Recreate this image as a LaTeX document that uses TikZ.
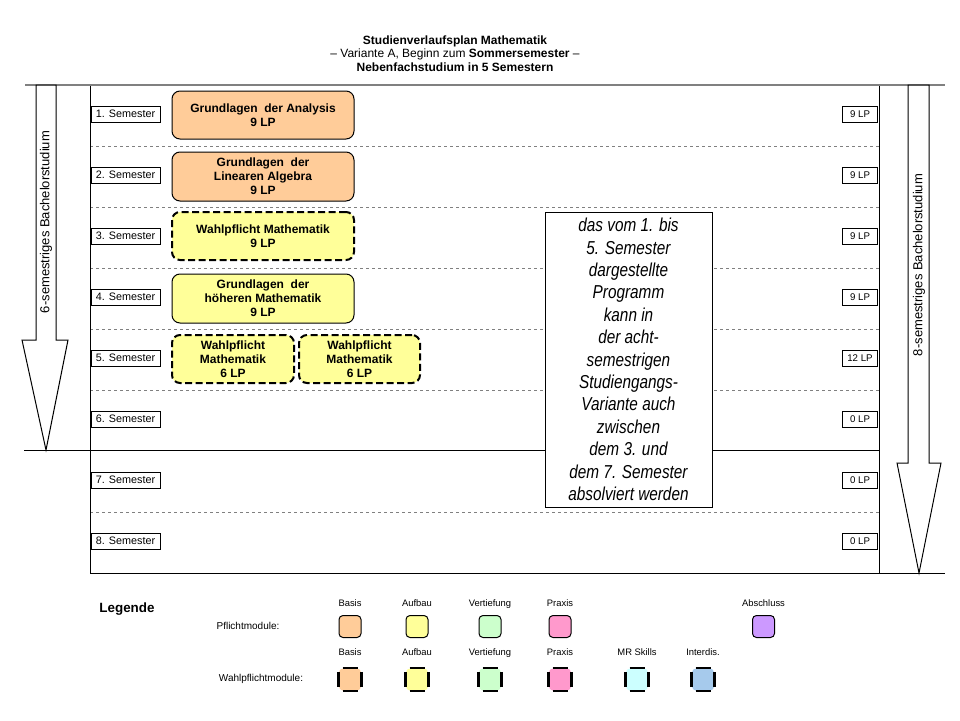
\documentclass[tikz,border=0pt]{standalone}
\usepackage{fontspec}
\setmainfont{Liberation Sans}
\newfontfamily\narrowfont[FakeStretch=0.82]{Liberation Sans}
\usetikzlibrary{positioning}
\definecolor{basis}{HTML}{FFCC99}
\definecolor{aufbau}{HTML}{FFFF99}
\definecolor{vertiefung}{HTML}{CCFFCC}
\definecolor{praxis}{HTML}{FF99CC}
\definecolor{abschluss}{HTML}{CC99FF}
\definecolor{mrskills}{HTML}{CCFFFF}
\definecolor{interdis}{HTML}{A6CAEC}
\tikzset{sem/.style = {draw, fill=white, line width=1pt, inner sep=0,
                       minimum width=69, minimum height=16,
                       font=\fontsize{10.8}{12}\selectfont}}
\tikzset{lp/.style = {draw, fill=white, line width=1pt, inner sep=0,
                      minimum width=35, minimum height=16, anchor=east,
                      font=\fontsize{9.7}{11}\selectfont}}
\tikzset{pflicht/.style = {draw, line width=1pt, rounded corners=8, inner sep=0,
                           align=center, font=\bfseries\fontsize{12}{14}\selectfont}}
\tikzset{wahl/.style = {pflicht, line width=2pt, dash pattern=on 7pt off 3.5pt}}
\tikzset{legbox/.style = {draw, line width=1pt, rounded corners=4, minimum size=22, inner sep=0}}
\tikzset{wside/.style = {line width=2.6pt, -}}
\tikzset{wlegbox/.style = {legbox, draw=none, append after command={
  ([yshift=-4pt]\tikzlastnode.north west) edge [wside] ([yshift=4pt]\tikzlastnode.south west)
  ([yshift=-4pt]\tikzlastnode.north east) edge [wside] ([yshift=4pt]\tikzlastnode.south east)
  ([xshift=4pt]\tikzlastnode.north west) edge [wside] ([xshift=-4pt]\tikzlastnode.north east)
  ([xshift=4pt]\tikzlastnode.south west) edge [wside] ([xshift=-4pt]\tikzlastnode.south east)}}}
\tikzset{leglabel/.style = {font=\fontsize{9.4}{11}\selectfont, text height=7, text depth=2}}
\tikzset{bigarrow/.style = {draw, line width=1pt, fill=white}}

\begin{document}
\begin{tikzpicture}[x=1pt, y=-1pt]
      \useasboundingbox (0, 0) rectangle (960, 720);

      % title
      \node (title) at (455, 53.5) [align=center, font=\fontsize{12}{13.5}\selectfont]
        {\textbf{Studienverlaufsplan Mathematik}\\
         -- Variante A, Beginn zum \textbf{Sommersemester} --\\
         \textbf{Nebenfachstudium in 5 Semestern}};

      % frame and semester rows
      \foreach \y in {146, 207, 268, 329, 390, 512}
        \draw [gray, line width=1pt, dashed] (90, \y) -- (879, \y);
      \draw [line width=1pt] (24, 450) -- (879, 450);
      \draw [line width=1pt] (90, 85) -- (90, 573);
      \draw [line width=1pt] (879, 85) -- (879, 573);
      \draw [line width=1pt] (90, 573) -- (945, 573);
      \draw [gray, line width=1.5pt] (25, 85) -- (945, 85);

      % 6 and 8 semester arrows
      \draw [bigarrow] (36, 85) -- (56, 85) -- (56, 340) -- (68, 340) -- (46, 450)
        -- (22, 340) -- (36, 340) -- cycle;
      \node (six) at (46, 222) [rotate=90, font=\fontsize{13}{15}\selectfont]
        {6-semestriges Bachelorstudium};
      \draw [bigarrow] (908, 85) -- (929, 85) -- (929, 463) -- (941, 463) -- (919, 573)
        -- (897, 463) -- (908, 463) -- cycle;
      \node (eight) at (919, 265) [rotate=90, font=\fontsize{13}{15}\selectfont]
        {8-semestriges Bachelorstudium};

      % semester labels and credit points
      \foreach \i/\p in {1/9, 2/9, 3/9, 4/9, 5/12, 6/0, 7/0, 8/0} {
        \node (sem\i) at (125.5, 114 + 61*\i - 61) [sem] {\i. Semester};
        \node (lp\i) at (878, 114 + 61*\i - 61) [lp] {\p\ LP};
      }

      % modules
      \node (analysis) at (263, 115) [pflicht, fill=basis, minimum width=182, minimum height=48]
        {Grundlagen\ \ der Analysis\\9 LP};
      \node (linalg) at (263, 176.5) [pflicht, fill=basis, minimum width=182, minimum height=49]
        {Grundlagen\ \ der\\Linearen Algebra\\9 LP};
      \node (wahl3) at (263, 236) [wahl, fill=aufbau, minimum width=182, minimum height=48]
        {Wahlpflicht Mathematik\\9 LP};
      \node (hoehere) at (263, 298.5) [pflicht, fill=aufbau, minimum width=182, minimum height=49]
        {Grundlagen\ \ der\\h\"oheren Mathematik\\9 LP};
      \node (wahl5a) at (233, 359) [wahl, fill=aufbau, minimum width=122, minimum height=48]
        {Wahlpflicht\\Mathematik\\6 LP};
      \node (wahl5b) at (359.5, 359) [wahl, fill=aufbau, minimum width=121, minimum height=48]
        {Wahlpflicht\\Mathematik\\6 LP};

      % note
      \node (note) at (628.5, 359.5) [draw, fill=white, line width=1pt, inner sep=0,
        minimum width=167, minimum height=295, align=center,
        font=\narrowfont\itshape\fontsize{18.7}{22.4}\selectfont]
        {das vom 1. bis\\5. Semester\\dargestellte\\Programm\\kann in\\der acht-\\semestrigen\\
         Studiengangs-\\Variante auch\\zwischen\\dem 3. und\\dem 7. Semester\\absolviert werden};

      % legend
      \node (legende) at (127, 609) [font=\bfseries\fontsize{13.4}{15}\selectfont] {Legende};
      \node (pflichtmod) at (248, 626) [font=\fontsize{10}{12}\selectfont] {Pflichtmodule:};
      \node (wahlmod) at (261, 679) [font=\fontsize{10}{12}\selectfont] {Wahlpflichtmodule:};
      \foreach \x/\c/\t in {350/basis/Basis, 417/aufbau/Aufbau, 490/vertiefung/Vertiefung,
                            560/praxis/Praxis, 763.5/abschluss/Abschluss} {
        \node (p\c) at (\x, 626.5) [legbox, fill=\c] {};
        \node (pl\c) at (\x, 604) [leglabel] {\t};
      }
      \foreach \x/\c/\t in {350/basis/Basis, 417/aufbau/Aufbau, 490/vertiefung/Vertiefung,
                            560/praxis/Praxis, 637/mrskills/MR Skills, 703/interdis/Interdis.} {
        \node (w\c) at (\x, 679.5) [wlegbox, fill=\c] {};
        \node (wl\c) at (\x, 653) [leglabel] {\t};
      }
    \end{tikzpicture}
\end{document}
